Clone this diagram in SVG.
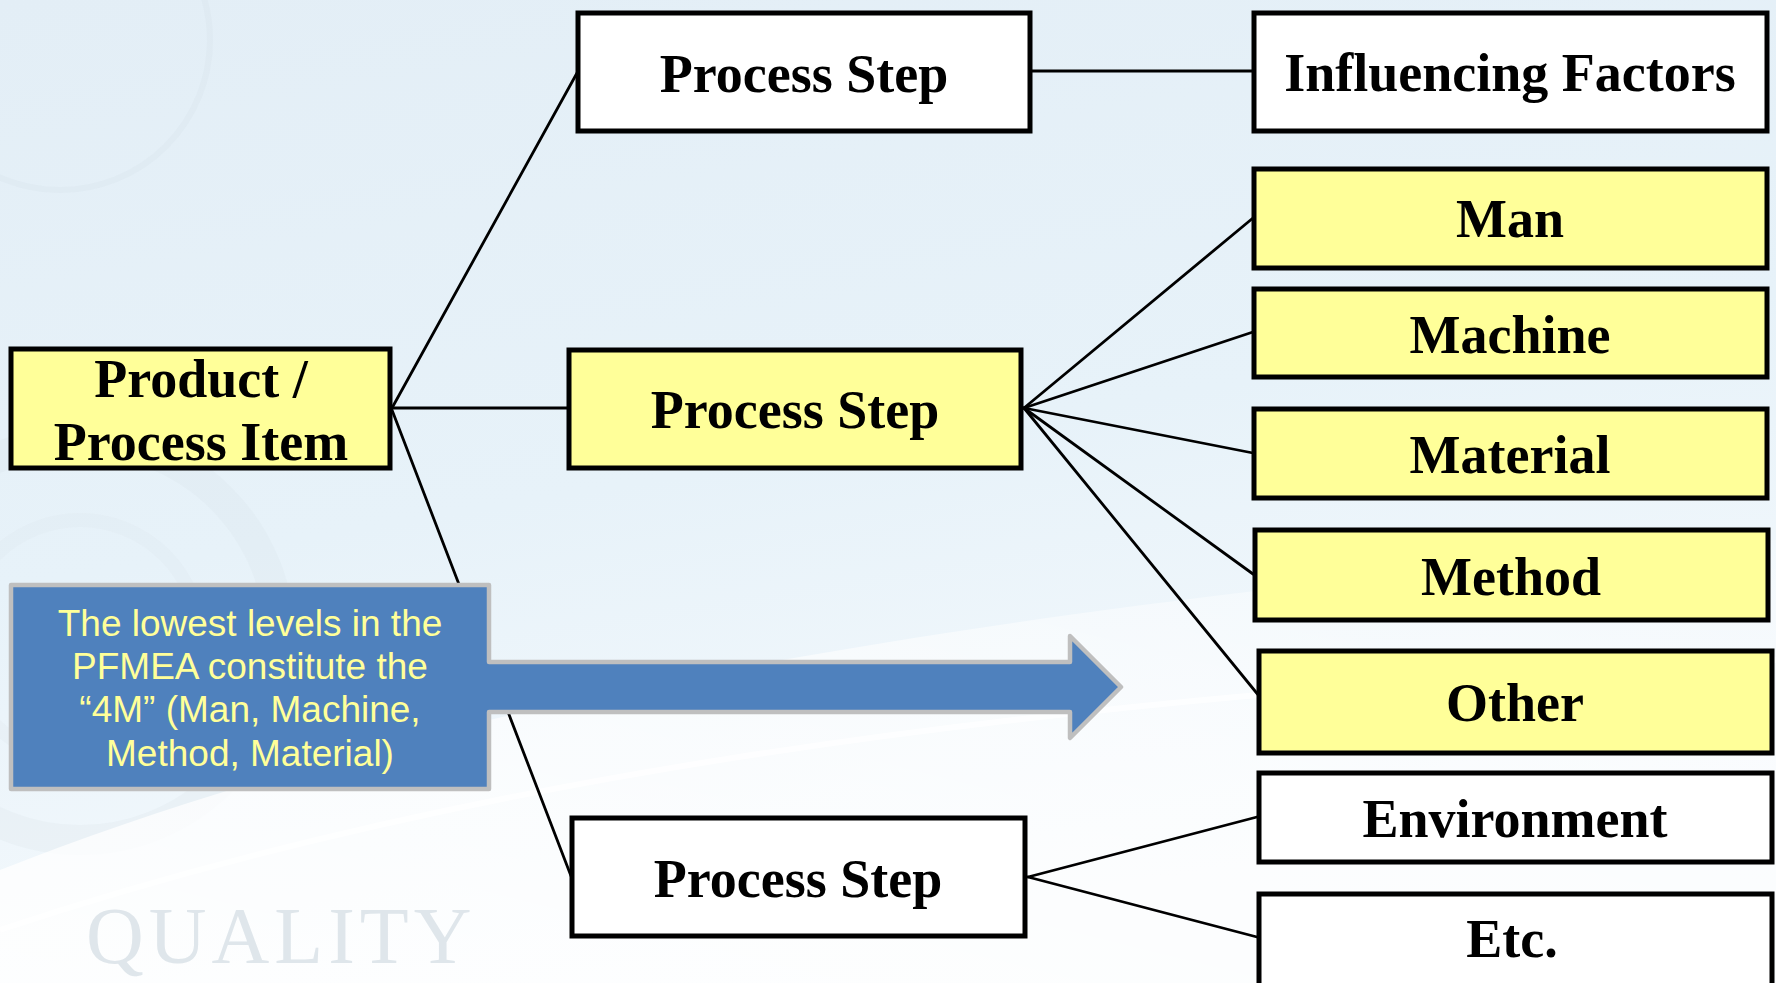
<svg xmlns="http://www.w3.org/2000/svg" width="1776" height="983" viewBox="0 0 1776 983">
  <defs>
    <linearGradient id="bg" x1="0" y1="0" x2="0.3" y2="1">
      <stop offset="0" stop-color="#e3eef6"/>
      <stop offset="0.55" stop-color="#e7f2f9"/>
      <stop offset="1" stop-color="#f6fafd"/>
    </linearGradient>
    <linearGradient id="swoosh" x1="0" y1="1" x2="1" y2="0">
      <stop offset="0" stop-color="#ffffff" stop-opacity="0.85"/>
      <stop offset="0.6" stop-color="#ffffff" stop-opacity="0.6"/>
      <stop offset="1" stop-color="#ffffff" stop-opacity="0.2"/>
    </linearGradient>
    <style>
      .box { stroke: #000000; stroke-width: 5; }
      .yellow { fill: #ffff99; }
      .white { fill: #ffffff; }
      .lbl { font-family: "Liberation Serif", "Times New Roman", serif; font-weight: bold; font-size: 54px; fill: #000000; text-anchor: middle; }
      .conn line { stroke: #000000; stroke-width: 2.8; stroke-linecap: round; }
      .call { font-family: "Liberation Sans", Arial, sans-serif; font-size: 37px; fill: #ffff99; text-anchor: middle; }
    </style>
  </defs>

  <!-- background -->
  <rect x="0" y="0" width="1776" height="983" fill="url(#bg)"/>
  <g fill="none" stroke="#d4dfe6">
    <circle cx="60" cy="40" r="150" stroke-width="6" stroke-opacity="0.25"/>
    <circle cx="80" cy="640" r="200" stroke-width="30" stroke-opacity="0.18"/>
    <circle cx="80" cy="640" r="120" stroke-width="14" stroke-opacity="0.15"/>
  </g>
  <path d="M0,983 L0,870 C380,720 900,610 1776,540 L1776,983 Z" fill="url(#swoosh)"/>
  <path d="M0,930 C420,790 950,700 1776,660" fill="none" stroke="#ffffff" stroke-opacity="0.7" stroke-width="6"/>
  <text x="86" y="963" font-family="Liberation Serif, Times New Roman, serif" font-size="80" letter-spacing="5" fill="#dfe6eb">QUALITY</text>

  <!-- connectors -->
  <g id="connectors" class="conn">
    <line x1="392" y1="408" x2="577" y2="73"/>
    <line x1="392" y1="408" x2="568" y2="408"/>
    <line x1="392" y1="410" x2="571" y2="876"/>
    <line x1="1032" y1="71" x2="1253" y2="71"/>
    <line x1="1024" y1="408" x2="1253" y2="218"/>
    <line x1="1024" y1="408" x2="1253" y2="332"/>
    <line x1="1024" y1="408" x2="1253" y2="453"/>
    <line x1="1024" y1="408" x2="1253" y2="574"/>
    <line x1="1024" y1="408" x2="1264" y2="702"/>
    <line x1="1028" y1="877" x2="1257" y2="817"/>
    <line x1="1028" y1="877" x2="1257" y2="937"/>
  </g>

  <!-- nodes -->
  <g id="product-item">
    <rect class="box yellow" x="11" y="349" width="379" height="119"/>
    <text class="lbl" x="201" y="397">Product /</text>
    <text class="lbl" x="201" y="460">Process Item</text>
  </g>
  <g id="process-step-1">
    <rect class="box white" x="578" y="13" width="452" height="118"/>
    <text class="lbl" x="804" y="92">Process Step</text>
  </g>
  <g id="process-step-2">
    <rect class="box yellow" x="569" y="350" width="452" height="118"/>
    <text class="lbl" x="795" y="428">Process Step</text>
  </g>
  <g id="process-step-3">
    <rect class="box white" x="572" y="818" width="453" height="118"/>
    <text class="lbl" x="798" y="897">Process Step</text>
  </g>
  <g id="influencing-factors">
    <rect class="box white" x="1254" y="13" width="513" height="118"/>
    <text class="lbl" x="1510" y="91">Influencing Factors</text>
  </g>
  <g id="man">
    <rect class="box yellow" x="1254" y="169" width="513" height="99"/>
    <text class="lbl" x="1510" y="237">Man</text>
  </g>
  <g id="machine">
    <rect class="box yellow" x="1254" y="289" width="513" height="88"/>
    <text class="lbl" x="1510" y="353">Machine</text>
  </g>
  <g id="material">
    <rect class="box yellow" x="1254" y="409" width="513" height="89"/>
    <text class="lbl" x="1510" y="473">Material</text>
  </g>
  <g id="method">
    <rect class="box yellow" x="1255" y="530" width="513" height="90"/>
    <text class="lbl" x="1511" y="595">Method</text>
  </g>
  <g id="other">
    <rect class="box yellow" x="1259" y="651" width="513" height="102"/>
    <text class="lbl" x="1515" y="721">Other</text>
  </g>
  <g id="environment">
    <rect class="box white" x="1259" y="773" width="513" height="89"/>
    <text class="lbl" x="1515" y="837">Environment</text>
  </g>
  <g id="etc">
    <rect class="box white" x="1259" y="894" width="513" height="110"/>
    <text class="lbl" x="1512" y="957">Etc.</text>
  </g>

  <!-- callout arrow -->
  <g id="callout">
    <path d="M11,585 H489 V662 H1070 V636 L1121,687 L1070,738 V712 H489 V789 H11 Z" fill="#4f81bd" stroke="#bfbfbf" stroke-width="4.5" stroke-linejoin="round"/>
    <text class="call" x="250" y="636">The lowest levels in the</text>
    <text class="call" x="250" y="679">PFMEA constitute the</text>
    <text class="call" x="250" y="722">“4M” (Man, Machine,</text>
    <text class="call" x="250" y="766">Method, Material)</text>
  </g>
</svg>
